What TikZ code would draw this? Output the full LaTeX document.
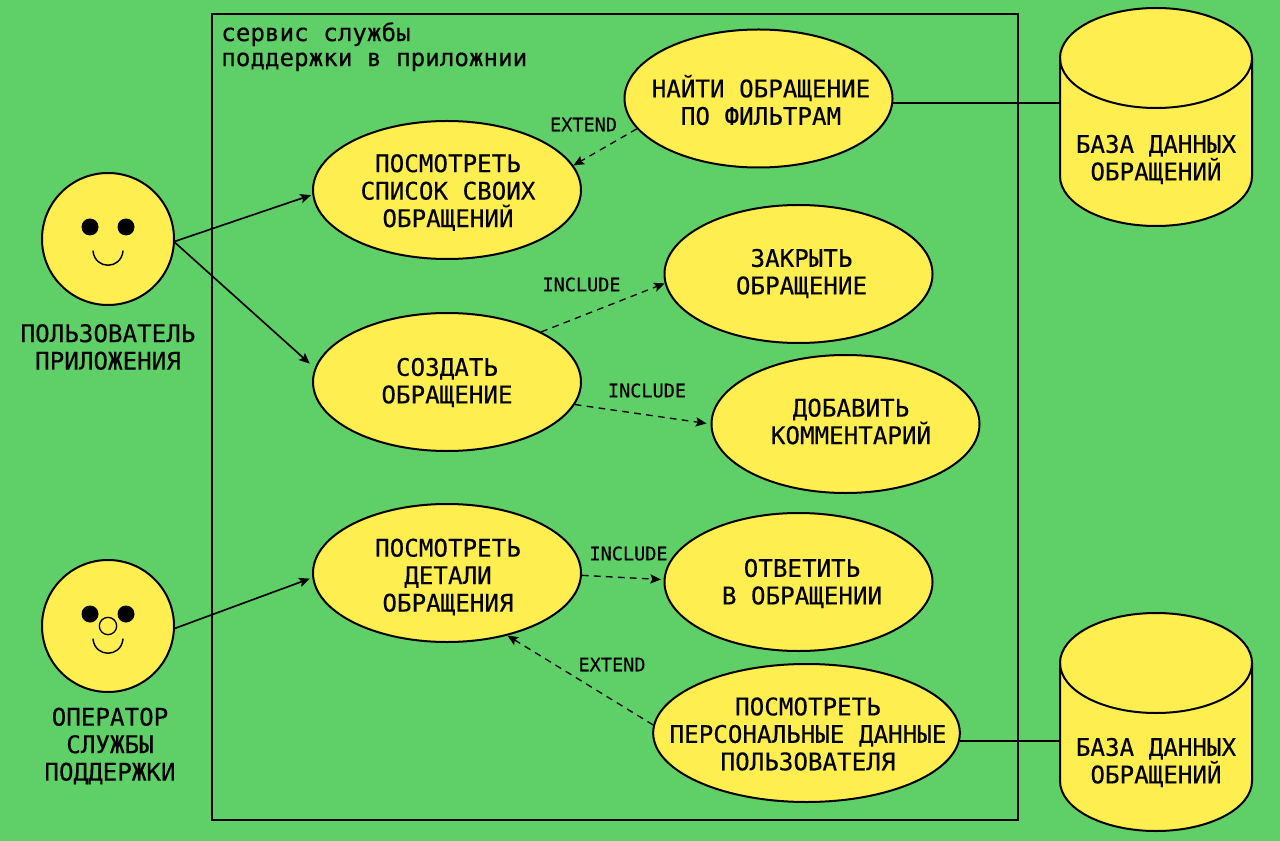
\documentclass[tikz,border=0pt]{standalone}
\usepackage{fontspec}
\setmainfont[FakeBold=0.35]{DejaVu Sans Mono}
\usetikzlibrary{shapes.geometric,arrows.meta}
\definecolor{bggreen}{RGB}{95,208,104}
\definecolor{sunny}{RGB}{255,238,80}
\tikzset{
  x=0.75pt,y=-0.75pt,
  usecase/.style={ellipse,draw=black,fill=sunny,line width=1.5pt,minimum width=201pt,minimum height=103.5pt,inner sep=0pt},
  face/.style={circle,draw=black,fill=sunny,line width=1.5pt,minimum size=99pt,inner sep=0pt},
  eye/.style={circle,fill=black,minimum size=12.75pt,inner sep=0pt},
  nose/.style={circle,draw=black,fill=sunny,line width=1pt,minimum size=13pt,inner sep=0pt},
  caption/.style={align=center,font=\fontsize{18.15}{20.6}\selectfont},
  small/.style={font=\fontsize{13.9}{16}\selectfont},
  solidarrow/.style={line width=1.25pt,-{Stealth[length=8pt,width=7pt,inset=1.5pt]}},
  dasharrow/.style={line width=1pt,dash pattern=on 5pt off 4pt,-{Stealth[length=8pt,width=7pt,inset=1.5pt]}},
  plainline/.style={line width=1.25pt},
  smile/.style={line width=1.1pt,line cap=round},
  cyl/.style={draw=black,fill=sunny,line width=1.5pt},
  dbbox/.style={minimum width=144pt,minimum height=163.5pt,inner sep=0pt}
}
\begin{document}
\begin{tikzpicture}
\useasboundingbox[fill=bggreen] (0,0) rectangle (1280,841);
% frame
\node[draw=black,line width=1.5pt,minimum width=604.5pt,minimum height=604.5pt,inner sep=0pt] (frame) at (615,417) {};
\node[anchor=north west,align=left,inner sep=0pt,font=\fontsize{18.15}{18.75}\selectfont] (title) at (221,22) {сервис службы\\поддержки в приложнии};
% use cases
\node[usecase] (e1) at (447,190) {};
\node[caption] (e1t) at (448,192.5) {ПОСМОТРЕТЬ\\СПИСОК СВОИХ\\ОБРАЩЕНИЙ};
\node[usecase] (e2) at (758.5,98.5) {};
\node[caption] (e2t) at (761,100) {НАЙТИ ОБРАЩЕНИЕ\\ПО ФИЛЬТРАМ};
\node[usecase] (e3) at (447,382) {};
\node[caption] (e3t) at (447,382.5) {СОЗДАТЬ\\ОБРАЩЕНИЕ};
\node[usecase] (e4) at (798.5,274) {};
\node[caption] (e4t) at (801.5,273.5) {ЗАКРЫТЬ\\ОБРАЩЕНИЕ};
\node[usecase] (e5) at (845.5,424) {};
\node[caption] (e5t) at (851,421.5) {ДОБАВИТЬ\\КОММЕНТАРИЙ};
\node[usecase] (e6) at (447,573) {};
\node[caption] (e6t) at (448,577) {ПОСМОТРЕТЬ\\ДЕТАЛИ\\ОБРАЩЕНИЯ};
\node[usecase] (e7) at (798.5,582) {};
\node[caption] (e7t) at (802,583.5) {ОТВЕТИТЬ\\В ОБРАЩЕНИИ};
\node[usecase,minimum width=230pt] (e8) at (806.5,733) {};
\node[caption] (e8t) at (808,734) {ПОСМОТРЕТЬ\\ПЕРСОНАЛЬНЫЕ ДАННЫЕ\\ПОЛЬЗОВАТЕЛЯ};
% actors
\node[face] (a1) at (108,239) {};
\node[eye] (a1l) at (90,227) {};
\node[eye] (a1r) at (126,227) {};
\draw[smile] (93,251) .. controls (95,270) and (121,270) .. (123,251);
\node[caption] (a1t) at (108,347) {ПОЛЬЗОВАТЕЛЬ\\ПРИЛОЖЕНИЯ};
\node[face] (a2) at (108,626) {};
\node[eye] (a2l) at (90,614) {};
\node[eye] (a2r) at (126,614) {};
\node[nose] (a2n) at (108,626) {};
\draw[smile] (93,639) .. controls (95,658) and (121,658) .. (123,639);
\node[caption] (a2t) at (110,746) {ОПЕРАТОР\\СЛУЖБЫ\\ПОДДЕРЖКИ};
% databases
\node[dbbox] (d1) at (1156,117) {};
\path[cyl] (1060,58) -- (1060,176) arc[start angle=180,end angle=360,x radius=96,y radius=-50] -- (1252,58) arc[start angle=0,end angle=180,x radius=96,y radius=-50] -- cycle;
\draw[cyl,fill=none] (1060,58) arc[start angle=180,end angle=360,x radius=96,y radius=-50];
\node[caption] (d1t) at (1156,159.5) {БАЗА ДАННЫХ\\ОБРАЩЕНИЙ};
\node[dbbox] (d2) at (1156,722) {};
\path[cyl] (1060,663) -- (1060,781) arc[start angle=180,end angle=360,x radius=96,y radius=-50] -- (1252,663) arc[start angle=0,end angle=180,x radius=96,y radius=-50] -- cycle;
\draw[cyl,fill=none] (1060,663) arc[start angle=180,end angle=360,x radius=96,y radius=-50];
\node[caption] (d2t) at (1156,762.5) {БАЗА ДАННЫХ\\ОБРАЩЕНИЙ};
% connectors
\draw[solidarrow,shorten >=1pt] (a1.358) -- (e1.182);
\draw[solidarrow,shorten >=5pt] (a1.357) -- (e3.174);
\draw[solidarrow,shorten >=2pt] (a2.358) -- (e6.182.5);
\draw[plainline] (e2.358.9) -- (e2.358.9 -| d1.west);
\draw[plainline] (e8.357.2) -- (e8.357.2 -| d2.west);
\draw[dasharrow] (e2.194.5) -- (e1.11);
\draw[dasharrow] (e3.28) -- (e4.184);
\draw[dasharrow,shorten >=3pt] (e3.350.5) -- (e5.west);
\draw[dasharrow,shorten >=2pt] (e6.359) -- (e7.179);
\draw[dasharrow] (e8.177) -- (e6.314.6);
% labels
\node[small] (l1) at (583.5,124.5) {EXTEND};
\node[small] (l2) at (581.5,284.5) {INCLUDE};
\node[small] (l3) at (647,390.5) {INCLUDE};
\node[small] (l4) at (628.5,553.5) {INCLUDE};
\node[small] (l5) at (612,664.5) {EXTEND};
\end{tikzpicture}
\end{document}
